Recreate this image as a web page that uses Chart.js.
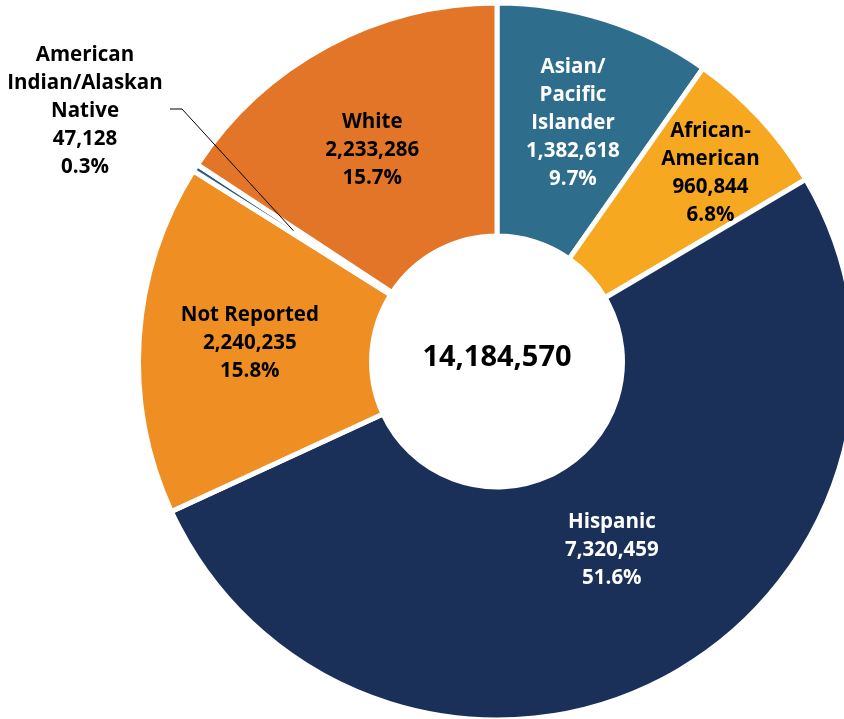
<!DOCTYPE html>
<html>
<head>
<meta charset="utf-8">
<script src="https://cdn.jsdelivr.net/npm/chart.js@4.4.1/dist/chart.umd.min.js"></script>
<style>
  html, body { margin: 0; padding: 0; background: #fff; overflow: hidden; }
  #wrap { position: absolute; left: 0; top: 0; width: 994px; height: 723px; }
</style>
</head>
<body>
<div id="wrap"><canvas id="raceChart" width="994" height="723"></canvas></div>
<script>
// data (clockwise from 12 o'clock)
const groups = ['Asian/Pacific Islander', 'African-American', 'Hispanic', 'Not Reported', 'American Indian/Alaskan Native', 'White'];
const labelLines = [['Asian/', 'Pacific', 'Islander'], ['African-', 'American'], ['Hispanic'], ['Not Reported'], ['American', 'Indian/Alaskan', 'Native'], ['White']];
const counts = [1382618, 960844, 7320459, 2240235, 47128, 2233286];
const sliceColors = ['#2E6E8C', '#F6A821', '#1B3059', '#EF8E22', '#2A5783', '#E27527'];
const textColors = ['#ffffff', '#000000', '#ffffff', '#000000', '#000000', '#000000'];

const total = counts.reduce((a, b) => a + b, 0);
const fmt = n => n.toLocaleString('en-US');
const FONT = '"Open Sans", "Noto Sans", sans-serif';

// label placement tweaks: extra radius (px) and angle (deg) per slice
const nudges = [
    { r: 10, a: 0 },
    { r: 44, a: 1 },
    { r: -23, a: -4 },
    { r: 6, a: 1 },
    { r: 0, a: 0 },
    { r: 5, a: -2 }
];

const sliceLabels = {
    id: 'sliceLabels',
    afterDatasetsDraw(chart) {
        const ctx = chart.ctx;
        const arcs = chart.getDatasetMeta(0).data;
        const lineH = 28;
        const yFix = 2;
        ctx.save();
        ctx.font = 'bold 20.5px ' + FONT;
        ctx.textAlign = 'center';
        ctx.textBaseline = 'middle';
        arcs.forEach((arc, i) => {
            const mid = (arc.startAngle + arc.endAngle) / 2;
            const ringMid = (arc.outerRadius + arc.innerRadius) / 2;
            const lines = labelLines[i].concat([fmt(counts[i]), (counts[i] / total * 100).toFixed(1) + '%']);
            if (i === 4) {
                // small slice: label outside with a leader line
                const ex = arc.x + Math.cos(mid) * ringMid;
                const ey = arc.y + Math.sin(mid) * ringMid;
                ctx.strokeStyle = '#000';
                ctx.lineWidth = 1;
                ctx.beginPath();
                ctx.moveTo(170, 109);
                ctx.lineTo(182, 109);
                ctx.lineTo(ex, ey);
                ctx.stroke();
                ctx.fillStyle = textColors[i];
                lines.forEach((t, k) => ctx.fillText(t, 85, 53 + yFix + k * lineH));
                return;
            }
            const ang = mid + nudges[i].a * Math.PI / 180;
            const r = ringMid + nudges[i].r;
            const cx = arc.x + Math.cos(ang) * r;
            const cy = arc.y + Math.sin(ang) * r;
            const top = cy - (lines.length - 1) * lineH / 2;
            ctx.fillStyle = textColors[i];
            lines.forEach((t, k) => ctx.fillText(t, cx, top + yFix + k * lineH));
        });
        // total in the hole
        const a0 = arcs[0];
        ctx.fillStyle = '#000';
        ctx.font = 'bold 29px ' + FONT;
        ctx.fillText(fmt(total), a0.x, a0.y - 4);
        ctx.restore();
    }
};

const ctx = document.getElementById('raceChart').getContext('2d');
const raceChart = new Chart(ctx, {
    type: 'doughnut',
    data: {
        labels: groups,
        datasets: [{
            data: counts,
            backgroundColor: sliceColors,
            borderColor: '#ffffff',
            borderWidth: 5
        }]
    },
    options: {
        responsive: false,
        animation: false,
        radius: 358.5,
        cutout: '35%',
        layout: { padding: 0 },
        plugins: {
            legend: { display: false },
            tooltip: { enabled: false }
        }
    },
    plugins: [sliceLabels]
});
</script>
</body>
</html>
